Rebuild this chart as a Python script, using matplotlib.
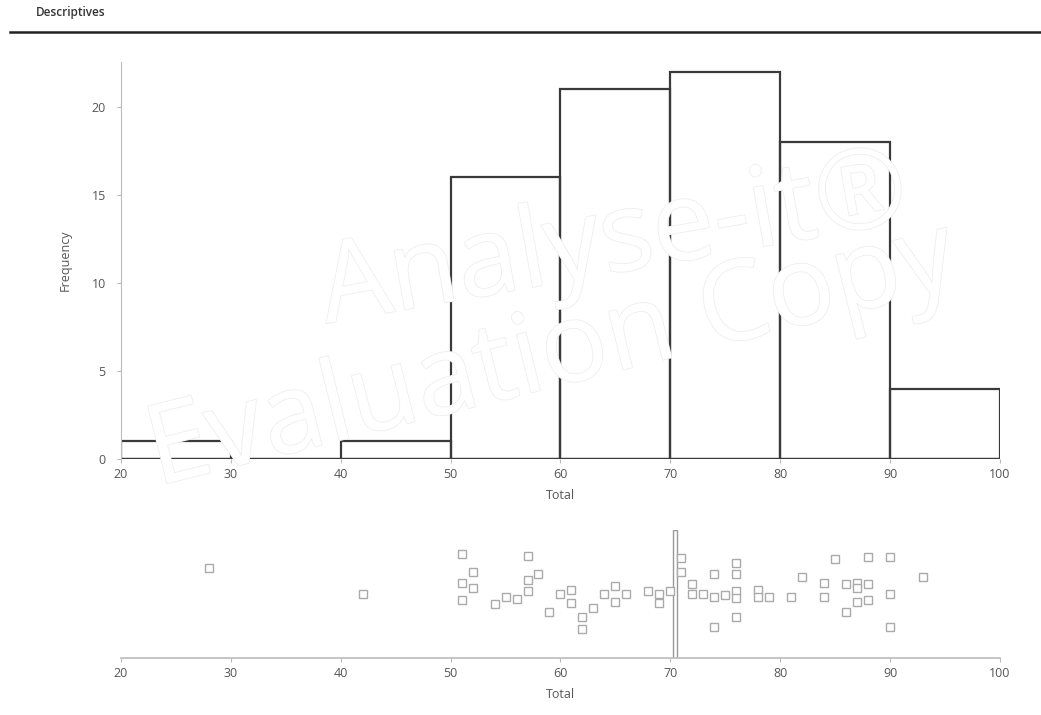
import matplotlib
matplotlib.use("Agg")
import matplotlib.pyplot as plt
import matplotlib.patheffects as pe

plt.rcParams["font.family"] = ["Open Sans", "DejaVu Sans"]

# ---------------------------
# Data
# ---------------------------
bin_edges = [20, 30, 40, 50, 60, 70, 80, 90, 100]
bin_counts = [1, 0, 1, 16, 21, 22, 18, 4]

# dot plot: each value with its vertical jitter (0 = axis, 1 = top)
dot_values = [28, 42, 51, 51, 51, 52, 52, 54, 55, 56, 57, 57, 57, 58, 59,
              60, 61, 61, 62, 62, 63, 64, 65, 65, 66, 68, 69, 69, 70,
              71, 71, 72, 72, 73, 74, 74, 74, 75, 76, 76, 76, 76, 76,
              78, 78, 79, 81, 82, 84, 84, 85, 86, 86, 87, 87, 87,
              88, 88, 88, 90, 90, 90, 93]
dot_jitter = [0.70, 0.50, 0.81, 0.59, 0.45, 0.67, 0.55, 0.42, 0.48, 0.46, 0.80, 0.61, 0.52, 0.66, 0.36,
              0.50, 0.53, 0.43, 0.32, 0.23, 0.39, 0.50, 0.56, 0.44, 0.50, 0.52, 0.50, 0.43, 0.52,
              0.78, 0.67, 0.58, 0.50, 0.50, 0.66, 0.48, 0.24, 0.49, 0.74, 0.66, 0.52, 0.47, 0.32,
              0.53, 0.48, 0.48, 0.48, 0.63, 0.59, 0.48, 0.77, 0.58, 0.36, 0.59, 0.55, 0.44,
              0.79, 0.58, 0.45, 0.79, 0.50, 0.24, 0.63]
mean_value = 70.45

x_ticks = [20, 30, 40, 50, 60, 70, 80, 90, 100]
y_ticks = [0, 5, 10, 15, 20]

label_color = "#555555"
axis_color = "#bbbbbb"

# ---------------------------
# Figure
# ---------------------------
fig = plt.figure(figsize=(10.41, 7.15), dpi=100)

fig.text(0.034, 0.983, "Descriptives", fontsize=8.5, color="#333333",
         va="center", ha="left", fontweight="semibold")
fig.add_artist(plt.Line2D([0.01, 1.0], [0.955, 0.955], color="#222222", lw=1.8))

# watermark
for txt, (x, y), rot in [("Analyse-it\u00ae", (0.59, 0.66), 10),
                         ("Evaluation Copy", (0.53, 0.50), 14)]:
    fig.text(x, y, txt, fontsize=80, color="white", rotation=rot,
             ha="center", va="center", zorder=0,
             path_effects=[pe.withStroke(linewidth=1.2, foreground="#eeeeee")])

# ---------------------------
# Histogram
# ---------------------------
ax = fig.add_axes([0.1162, 0.358, 0.8444, 0.5552])
ax.patch.set_alpha(0)
lefts = bin_edges[:-1]
widths = [b - a for a, b in zip(bin_edges[:-1], bin_edges[1:])]
ax.bar(lefts, bin_counts, width=widths, align="edge", fill=False,
       edgecolor="#3a3a3a", linewidth=1.6)
ax.axhline(0, color="#3a3a3a", lw=1.6)
ax.set_xlim(20, 100)
ax.set_ylim(0, 22.55)
ax.set_xticks(x_ticks)
ax.set_yticks(y_ticks)
for s in ["top", "right"]:
    ax.spines[s].set_visible(False)
ax.spines["left"].set_color(axis_color)
ax.spines["left"].set_linewidth(0.8)
ax.spines["bottom"].set_visible(False)
ax.tick_params(axis="both", colors=axis_color, labelcolor=label_color,
               labelsize=9, length=3, width=0.8)
ax.tick_params(axis="y", pad=8)
ax.set_xlabel("Total", fontsize=9, color=label_color, labelpad=6)
ax.set_ylabel("Frequency", fontsize=9, color=label_color, labelpad=14)

# ---------------------------
# Dot plot
# ---------------------------
ax2 = fig.add_axes([0.1162, 0.0797, 0.8444, 0.179])
ax2.patch.set_alpha(0)
ax2.plot(dot_values, dot_jitter, linestyle="none", marker="s", markersize=6,
         markerfacecolor="white", markeredgecolor="#aaaaaa", markeredgewidth=1)
ax2.bar(mean_value, 1.0, width=0.35, bottom=0, fill=False,
        edgecolor="#999999", linewidth=1)
ax2.set_xlim(20, 100)
ax2.set_ylim(0, 1)
ax2.set_xticks(x_ticks)
ax2.set_yticks([])
for s in ["top", "right", "left"]:
    ax2.spines[s].set_visible(False)
ax2.spines["bottom"].set_color(axis_color)
ax2.spines["bottom"].set_linewidth(1.2)
ax2.tick_params(axis="x", colors=axis_color, labelcolor=label_color,
                labelsize=9, length=3, width=0.8)
ax2.set_xlabel("Total", fontsize=9, color=label_color, labelpad=6)

fig.savefig("out.png", dpi=100)
